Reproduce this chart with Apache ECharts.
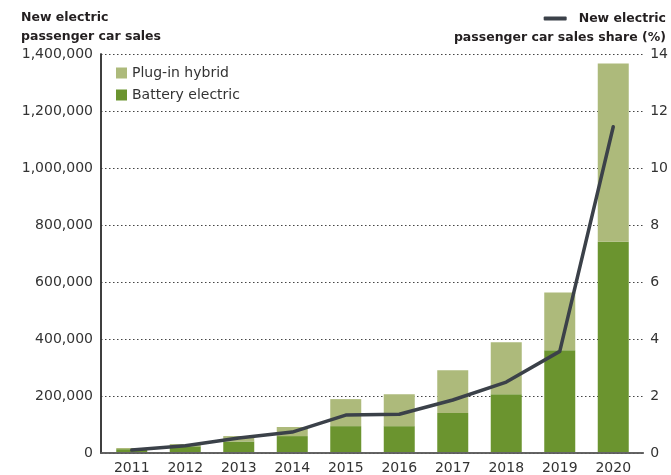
<!DOCTYPE html>
<html>
<head>
<meta charset="utf-8">
<script src="https://cdn.jsdelivr.net/npm/echarts@6/dist/echarts.min.js"></script>
<style>
  html, body { margin: 0; padding: 0; background: #fff; }
  #chart { width: 671px; height: 475px; }
</style>
</head>
<body>
<div id="chart"></div>
<script>
const years = ['2011', '2012', '2013', '2014', '2015', '2016', '2017', '2018', '2019', '2020'];
const batteryElectric = [10000, 20000, 37000, 56000, 91000, 91000, 137000, 203000, 358000, 740000];
const plugInHybrid = [4000, 8000, 19000, 32000, 95000, 112000, 151000, 183000, 203000, 627000];
const salesShare = [0.07, 0.22, 0.49, 0.70, 1.30, 1.33, 1.83, 2.46, 3.54, 11.44];

const FONT = 'DejaVu Sans';
const shareName = 'New electric passenger car sales share (%)';

function withCommas(v) {
    return String(v).replace(/\B(?=(\d{3})+(?!\d))/g, ',');
}

const chart = echarts.init(document.getElementById('chart'));

const option = {
    animation: false,
    textStyle: { fontFamily: FONT },
    title: [
        {
            text: 'New electric\npassenger car sales',
            left: 16,
            top: 3,
            textStyle: { fontFamily: FONT, fontSize: 12.5, fontWeight: 'bold', color: '#231f20', lineHeight: 19 }
        },
        {
            text: 'passenger car sales share (%)',
            right: 0,
            top: 26,
            textStyle: { fontFamily: FONT, fontSize: 12.5, fontWeight: 'bold', color: '#231f20' }
        }
    ],
    legend: [
        {
            data: ['Plug-in hybrid', 'Battery electric'],
            orient: 'vertical',
            left: 111,
            top: 61,
            icon: 'rect',
            itemWidth: 11,
            itemHeight: 11,
            itemGap: 8,
            textStyle: { fontFamily: FONT, fontSize: 14, color: '#333' }
        },
        {
            data: [shareName],
            right: 0,
            top: 7,
            icon: 'roundRect',
            itemWidth: 23,
            itemHeight: 4,
            formatter: () => 'New electric',
            textStyle: { fontFamily: FONT, fontSize: 12.5, fontWeight: 'bold', color: '#231f20', padding: [0, 0, 0, 7] }
        }
    ],
    grid: [
        { left: 101, right: 25, top: 54, height: 399 },
        { left: 105, right: 31, top: 54, height: 399 }
    ],
    xAxis: [
        {
            gridIndex: 0, type: 'value', min: 0, max: 1,
            axisLine: { show: true, lineStyle: { color: '#333', width: 1.5 } },
            axisTick: { show: false }, axisLabel: { show: false }, splitLine: { show: false }
        },
        {
            gridIndex: 0, type: 'value', position: 'top', min: 0, max: 1,
            axisLine: { show: true, lineStyle: { color: '#666', width: 1.5 } },
            axisTick: { show: false }, axisLabel: { show: false }, splitLine: { show: false }
        },
        {
            gridIndex: 1, type: 'category', data: years,
            axisLine: { show: false }, axisTick: { show: false },
            axisLabel: { margin: 9, fontFamily: FONT, fontSize: 14, color: '#333' }
        }
    ],
    yAxis: [
        {
            gridIndex: 0, type: 'value', min: 0, max: 1400000, interval: 200000,
            axisLine: { show: true, lineStyle: { color: '#333', width: 1.5 } },
            axisTick: { show: false },
            axisLabel: { margin: 8, fontFamily: FONT, fontSize: 14, color: '#333', formatter: withCommas },
            splitLine: { show: true, lineStyle: { color: '#444', type: [1.5, 2.5], width: 1.2 } }
        },
        {
            gridIndex: 0, type: 'value', position: 'right', min: 0, max: 14, interval: 2,
            axisLine: { show: true, lineStyle: { color: '#333', width: 1.5 } },
            axisTick: { show: false },
            axisLabel: { margin: 7, fontFamily: FONT, fontSize: 14, color: '#333' },
            splitLine: { show: false }
        },
        {
            gridIndex: 1, type: 'value', min: 0, max: 1400000, show: false
        },
        {
            gridIndex: 1, type: 'value', position: 'right', min: 0, max: 14, show: false
        }
    ],
    series: [
        {
            name: 'Battery electric',
            type: 'bar',
            stack: 'sales',
            xAxisIndex: 2,
            yAxisIndex: 2,
            barWidth: 31,
            itemStyle: { color: '#6b942f' },
            data: batteryElectric
        },
        {
            name: 'Plug-in hybrid',
            type: 'bar',
            stack: 'sales',
            xAxisIndex: 2,
            yAxisIndex: 2,
            barWidth: 31,
            itemStyle: { color: '#adba7b' },
            data: plugInHybrid
        },
        {
            name: shareName,
            type: 'line',
            xAxisIndex: 2,
            yAxisIndex: 3,
            symbol: 'none',
            color: '#3b4149',
            lineStyle: { color: '#3b4149', width: 3.5, cap: 'round', join: 'round' },
            data: salesShare
        }
    ]
};

chart.setOption(option);
</script>
</body>
</html>
